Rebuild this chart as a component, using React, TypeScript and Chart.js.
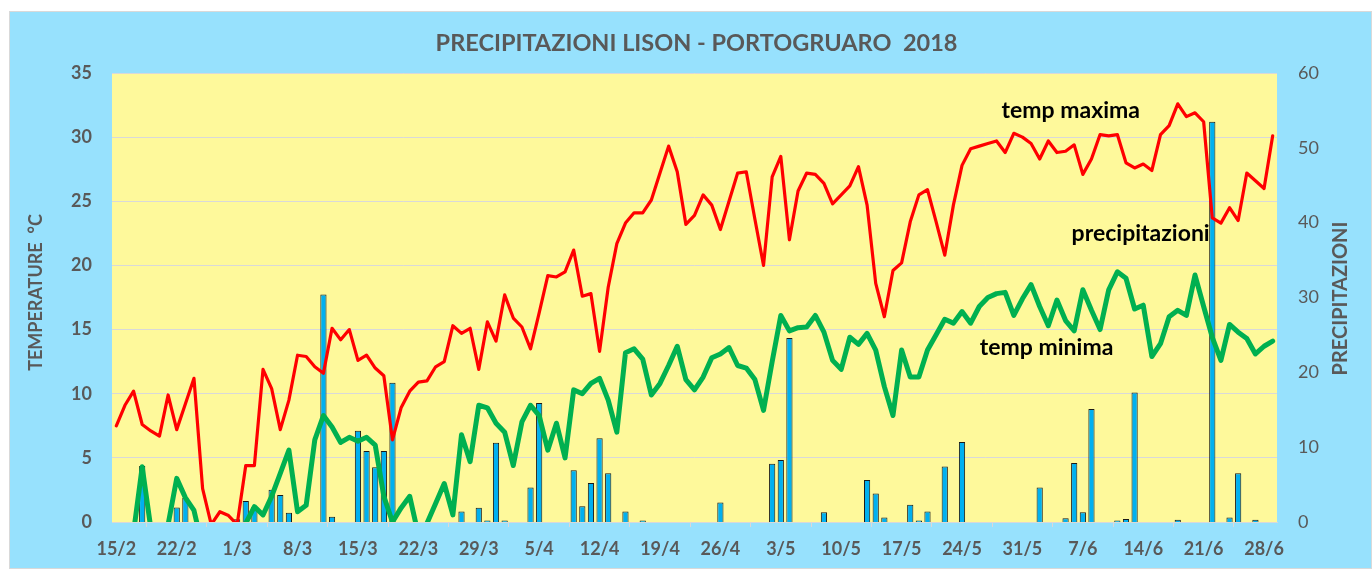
import React, { useEffect, useRef } from "react";
import { Chart, registerables } from "chart.js";

Chart.register(...registerables);

// ---- data ----
const START_DATE = [2018, 1, 15]; // 15 Feb 2018
const DAY_COUNT = 135; // 15/2 .. 29/6

const categories: string[] = (() => {
  const out: string[] = [];
  const d = new Date(START_DATE[0], START_DATE[1], START_DATE[2]);
  for (let i = 0; i < DAY_COUNT; i++) {
    out.push(`${d.getDate()}/${d.getMonth() + 1}`);
    d.setDate(d.getDate() + 1);
  }
  return out;
})();

const tickLabels = [
  "15/2", "22/2", "1/3", "8/3", "15/3", "22/3", "29/3", "5/4", "12/4", "19/4",
  "26/4", "3/5", "10/5", "17/5", "24/5", "31/5", "7/6", "14/6", "21/6", "28/6",
];

const tempMax = [
  7.5, 9.1, 10.2, 7.6, 7.1, 6.7, 9.9, 7.2, 9.2, 11.2,
  2.6, -0.2, 0.8, 0.5, -0.2, 4.4, 4.4, 11.9, 10.4, 7.2,
  9.5, 13.0, 12.9, 12.1, 11.6, 15.1, 14.2, 15.0, 12.6, 13.0,
  12.0, 11.4, 6.4, 8.9, 10.2, 10.9, 11.0, 12.1, 12.5, 15.3,
  14.7, 15.1, 11.9, 15.6, 14.1, 17.7, 15.9, 15.2, 13.5, 16.3,
  19.2, 19.1, 19.5, 21.2, 17.6, 17.8, 13.3, 18.3, 21.7, 23.3,
  24.1, 24.1, 25.1, 27.2, 29.3, 27.3, 23.2, 23.9, 25.5, 24.7,
  22.8, 25.0, 27.2, 27.3, 23.6, 20.0, 26.9, 28.5, 22.0, 25.8,
  27.2, 27.1, 26.4, 24.8, 25.5, 26.2, 27.7, 24.7, 18.6, 16.0,
  19.6, 20.2, 23.4, 25.5, 25.9, 23.4, 20.8, 24.7, 27.8, 29.1,
  29.3, 29.5, 29.7, 28.8, 30.3, 30.0, 29.5, 28.3, 29.7, 28.8,
  28.9, 29.4, 27.1, 28.3, 30.2, 30.1, 30.2, 28.0, 27.6, 27.9,
  27.4, 30.2, 30.9, 32.6, 31.6, 31.9, 31.2, 23.7, 23.3, 24.5,
  23.5, 27.2, 26.6, 26.0, 30.1,
];

const tempMin = [
  -1.0, -2.0, -0.8, 4.3, -0.5, -2.0, -0.2, 3.4, 1.9, 0.9,
  -2.0, -3.0, -3.0, -2.5, -1.5, -0.1, 1.2, 0.55, 2.0, 3.8,
  5.6, 0.8, 1.3, 6.4, 8.3, 7.4, 6.2, 6.6, 6.3, 6.6,
  6.0, 2.0, 0.0, 1.1, 2.0, -1.0, -0.1, 1.45, 3.0, 0.55,
  6.8, 4.7, 9.1, 8.9, 7.7, 7.0, 4.4, 7.8, 9.1, 8.3,
  5.6, 7.7, 5.0, 10.3, 10.0, 10.8, 11.2, 9.5, 7.0, 13.2,
  13.5, 12.7, 9.9, 10.8, 12.2, 13.7, 11.1, 10.3, 11.3, 12.8,
  13.1, 13.6, 12.2, 12.0, 11.1, 8.7, 12.5, 16.1, 14.9, 15.15,
  15.2, 16.1, 14.8, 12.6, 11.9, 14.4, 13.85, 14.7, 13.4, 10.55,
  8.3, 13.4, 11.3, 11.3, 13.4, 14.6, 15.8, 15.5, 16.4, 15.5,
  16.8, 17.5, 17.8, 17.9, 16.1, 17.4, 18.5, 16.8, 15.3, 17.3,
  15.7, 14.9, 18.1, 16.5, 15.0, 18.1, 19.5, 19.0, 16.6, 16.9,
  12.9, 13.9, 16.0, 16.5, 16.1, 19.25, 16.8, 14.4, 12.6, 15.4,
  14.8, 14.3, 13.1, 13.7, 14.1,
];

const precip = [
  0, 0, 0, 7.5, 0, 0, 0, 1.95, 3.2, 0,
  0, 0, 0, 0, 0.36, 2.8, 2.0, 0, 4.3, 3.6,
  1.25, 0, 0, 0, 30.4, 0.7, 0, 0, 12.2, 9.5,
  7.3, 9.5, 18.6, 0, 0, 0, 0, 0, 0, 0,
  1.4, 0, 1.9, 0.2, 10.6, 0.2, 0, 0, 4.6, 15.9,
  0, 0, 0, 6.9, 2.1, 5.2, 11.2, 6.5, 0, 1.4,
  0, 0.2, 0, 0, 0, 0, 0, 0, 0, 0,
  2.6, 0, 0, 0, 0, 0, 7.8, 8.3, 24.6, 0,
  0, 0, 1.3, 0, 0, 0, 0, 5.6, 3.8, 0.6,
  0, 0, 2.3, 0.2, 1.4, 0, 7.4, 0, 10.7, 0,
  0, 0, 0, 0, 0, 0, 0, 4.6, 0, 0,
  0.5, 7.9, 1.3, 15.1, 0, 0, 0.2, 0.4, 17.3, 0,
  0, 0, 0, 0.3, 0, 0, 0, 53.5, 0, 0.6,
  6.5, 0, 0.3, 0, 0,
];

const tempTicks = [0, 5, 10, 15, 20, 25, 30, 35];
const precipTicks = [0, 10, 20, 30, 40, 50, 60];

// in-chart labels, anchored in data space (category index, temperature)
const seriesLabels = [
  { text: "temp maxima", index: 110.6, value: 32.1 },
  { text: "precipitazioni", index: 118.7, value: 22.5 },
  { text: "temp minima", index: 107.8, value: 13.6 },
];

const TITLE = "PRECIPITAZIONI LISON - PORTOGRUARO  2018";
const Y_TITLE = "TEMPERATURE  °C";
const Y1_TITLE = "PRECIPITAZIONI";

const GREY = "#595959";
const FONT = "Lato, 'Open Sans', 'Liberation Sans', sans-serif";

const textPlugin = {
  id: "textPlugin",
  afterDatasetsDraw(chart: any) {
    const { ctx } = chart;
    const x = chart.scales.x;
    const y = chart.scales.y;
    ctx.save();
    ctx.fillStyle = "#000";
    ctx.font = `bold 23px ${FONT}`;
    ctx.textAlign = "center";
    ctx.textBaseline = "middle";
    for (const l of seriesLabels) {
      ctx.fillText(l.text, x.getPixelForValue(l.index), y.getPixelForValue(l.value));
    }
    ctx.restore();
  },
  afterDraw(chart: any) {
    const { ctx, chartArea } = chart;
    const midY = (chartArea.top + chartArea.bottom) / 2;
    ctx.save();
    ctx.fillStyle = GREY;
    ctx.textAlign = "center";
    ctx.textBaseline = "middle";
    ctx.font = `bold 23.5px ${FONT}`;
    ctx.fillText(TITLE, (chartArea.left + chartArea.right) / 2 + 2, 31);

    ctx.font = `bold 18px ${FONT}`;
    ctx.save();
    ctx.translate(26, midY - 5);
    ctx.rotate(-Math.PI / 2);
    ctx.fillText(Y_TITLE, 0, 0);
    ctx.restore();

    ctx.font = `bold 20px ${FONT}`;
    ctx.save();
    ctx.translate(1331, midY + 1);
    ctx.rotate(-Math.PI / 2);
    ctx.fillText(Y1_TITLE, 0, 0);
    ctx.restore();
    ctx.restore();
  },
};

const plotBgPlugin = {
  id: "plotBg",
  beforeDraw(chart: any) {
    const { ctx, chartArea } = chart;
    ctx.save();
    ctx.fillStyle = "#FEF99B";
    ctx.fillRect(chartArea.left, chartArea.top, chartArea.right - chartArea.left, chartArea.bottom - chartArea.top);
    ctx.restore();
  },
};

export default function App() {
  const ref = useRef<HTMLCanvasElement | null>(null);

  useEffect(() => {
    if (!ref.current) return;
    const chart = new Chart(ref.current, {
      type: "bar",
      data: {
        labels: categories,
        datasets: [
          {
            type: "line",
            label: "temp maxima",
            data: tempMax,
            yAxisID: "y",
            borderColor: "#FF0000",
            borderWidth: 3.2,
            pointRadius: 0,
            tension: 0,
            borderJoinStyle: "round",
            borderCapStyle: "round",
            order: 1,
          } as any,
          {
            type: "line",
            label: "temp minima",
            data: tempMin,
            yAxisID: "y",
            borderColor: "#00B050",
            borderWidth: 5,
            pointRadius: 0,
            tension: 0,
            borderJoinStyle: "round",
            borderCapStyle: "round",
            order: 0,
          } as any,
          {
            type: "bar",
            label: "precipitazioni",
            data: precip.map((v) => (v > 0 ? v : null)),
            yAxisID: "y1",
            backgroundColor: "#00B0F0",
            borderColor: "#1a1a1a",
            borderWidth: 1,
            categoryPercentage: 1,
            barPercentage: 0.72,
            order: 2,
          } as any,
        ],
      },
      options: {
        responsive: false,
        animation: false,
        events: [],
        layout: { padding: { top: 61, left: 0, right: 0, bottom: 0 } },
        plugins: {
          legend: { display: false },
          tooltip: { enabled: false },
          title: { display: false },
        },
        scales: {
          x: {
            type: "category",
            offset: true,
            grid: {
              offset: true,
              drawOnChartArea: false,
              drawTicks: true,
              tickLength: 5,
              color: "#D9D9D9",
            },
            border: { display: true, color: "#D9D9D9" },
            ticks: {
              autoSkip: false,
              maxRotation: 0,
              minRotation: 0,
              padding: 11,
              color: GREY,
              font: { family: FONT, size: 18, weight: "bold" },
              callback: (_v: any, i: number) => (tickLabels.includes(categories[i]) ? categories[i] : null),
            },
            afterFit: (s: any) => {
              s.height = 46;
            },
          },
          y: {
            position: "left",
            min: 0,
            max: 35,
            afterBuildTicks: (s: any) => {
              s.ticks = tempTicks.map((v) => ({ value: v }));
            },
            grid: { color: "#D9D9D9", drawTicks: false, lineWidth: 1 },
            border: { display: false },
            ticks: {
              padding: 20,
              color: GREY,
              font: { family: FONT, size: 18, weight: "bold" },
            },
            afterFit: (s: any) => {
              s.width = 102;
            },
          },
          y1: {
            position: "right",
            min: 0,
            max: 60,
            afterBuildTicks: (s: any) => {
              s.ticks = precipTicks.map((v) => ({ value: v }));
            },
            grid: { display: false, drawTicks: false },
            border: { display: false },
            ticks: {
              padding: 21,
              color: GREY,
              font: { family: FONT, size: 18, weight: "normal" },
            },
            afterFit: (s: any) => {
              s.width = 94;
            },
          },
        },
      },
      plugins: [plotBgPlugin, textPlugin],
    });
    return () => chart.destroy();
  }, []);

  return (
    <div
      style={{
        position: "fixed",
        left: 9,
        top: 11,
        width: 1363,
        height: 558,
        boxSizing: "border-box",
        border: "1px solid #D9D9D9",
        background: "#97E1FD",
        overflow: "hidden",
      }}
    >
      <canvas ref={ref} width={1361} height={556} style={{ display: "block" }} />
    </div>
  );
}
